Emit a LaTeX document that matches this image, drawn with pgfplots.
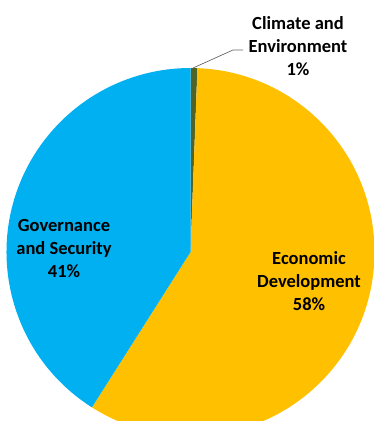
\documentclass[border=0pt]{standalone}
\usepackage{pgfplots}
\usepackage{pgfplotstable}
\pgfplotsset{compat=1.18}
\usepackage{fontspec}
\setmainfont{Carlito}
\definecolor{pieblue}{HTML}{00B0F0}
\definecolor{pieyellow}{HTML}{FFC000}
\definecolor{piegreen}{HTML}{4F6228}
\pgfplotstableread{
label value
Climate 0.6
Economic 58.4
Governance 41.0
}\piedata
\begin{document}
\begin{tikzpicture}
\pgfplotstablegetelem{0}{value}\of\piedata \let\vA\pgfplotsretval
\pgfplotstablegetelem{1}{value}\of\piedata \let\vB\pgfplotsretval
\pgfplotstablegetelem{2}{value}\of\piedata \let\vC\pgfplotsretval
\pgfmathsetmacro\aZero{90}
\pgfmathsetmacro\aOne{90-3.6*\vA}
\pgfmathsetmacro\aTwo{\aOne-3.6*\vB}
\pgfmathsetmacro\aThree{\aTwo-3.6*\vC}
\begin{axis}[
  x=1pt, y=1pt,
  xmin=0, xmax=374, ymin=0, ymax=421,
  hide axis, scale only axis,
  clip=true,
]
\fill[piegreen] (axis cs:190.5,169) -- ++(\aZero:184pt) arc[start angle=\aZero, end angle=\aOne, radius=184pt] -- cycle;
\fill[pieyellow] (axis cs:190.5,169) -- ++(\aOne:184pt) arc[start angle=\aOne, end angle=\aTwo, radius=184pt] -- cycle;
\fill[pieblue] (axis cs:190.5,169) -- ++(\aTwo:184pt) arc[start angle=\aTwo, end angle=\aThree, radius=184pt] -- cycle;
\draw[gray!80!black, line width=0.7pt] (axis cs:193,353) -- (axis cs:233,371) -- (axis cs:243,371);
\node[align=center, font=\fontsize{18.5}{23}\selectfont\bfseries] at (axis cs:298,375) {Climate and\\Environment\\1\%};
\node[align=center, font=\fontsize{18.5}{23}\selectfont\bfseries] at (axis cs:64,172) {Governance\\and Security\\41\%};
\node[align=center, font=\fontsize{18.5}{23}\selectfont\bfseries] at (axis cs:309,140) {Economic\\Development\\58\%};
\end{axis}
\pgfresetboundingbox
\useasboundingbox (current axis.south west) rectangle (current axis.north east);
\end{tikzpicture}
\end{document}
